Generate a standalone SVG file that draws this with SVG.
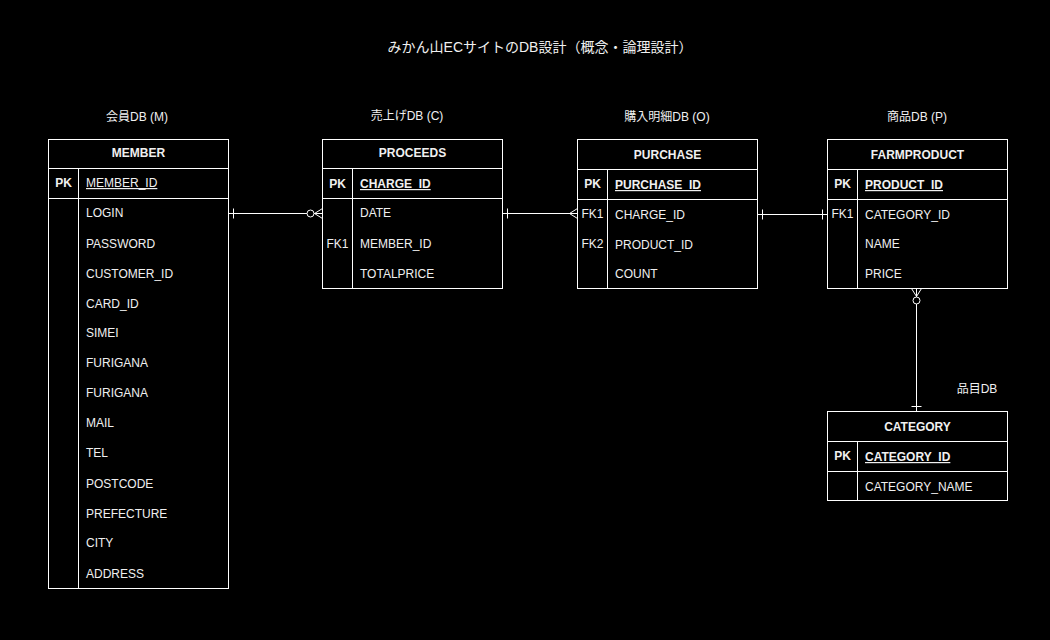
<svg xmlns="http://www.w3.org/2000/svg" width="1050" height="640" viewBox="0 0 1050 640">
<style>
text{font-family:"Liberation Sans","Noto Sans CJK JP",sans-serif;font-size:12px;fill:#f0f0f0}
.title{font-size:14px}
.h{font-weight:bold;text-anchor:middle}
.pk{font-weight:bold;text-anchor:middle}
.fk{text-anchor:middle}
.pkf{font-weight:bold;text-decoration:underline}
.u{text-decoration:underline}
.lbl{text-anchor:middle}
.box{fill:#000;stroke:#fff;stroke-width:1}
.ln{stroke:#fff;stroke-width:1;fill:none}
.cn{stroke:#fff;stroke-width:1;fill:none}
</style>
<defs>
<marker id="one" markerUnits="userSpaceOnUse" markerWidth="20" markerHeight="20" refX="0" refY="0" orient="auto-start-reverse" overflow="visible">
<path d="M-5,-5V5" stroke="#fff" stroke-width="1" fill="none"/>
</marker>
<marker id="many" markerUnits="userSpaceOnUse" markerWidth="20" markerHeight="20" refX="0" refY="0" orient="auto-start-reverse" overflow="visible">
<path d="M0,-5L-8,0L0,5" stroke="#fff" stroke-width="1" fill="none"/>
</marker>
<marker id="zeroMany" markerUnits="userSpaceOnUse" markerWidth="30" markerHeight="20" refX="0" refY="0" orient="auto-start-reverse" overflow="visible">
<path d="M0,-5L-8,0L0,5" stroke="#fff" stroke-width="1" fill="none"/>
<circle cx="-12" cy="0" r="3.5" fill="#000" stroke="#fff" stroke-width="1"/>
</marker>
</defs>
<rect width="1050" height="640" fill="#000"/>
<text class="title" x="540" y="52" text-anchor="middle">みかん山ECサイトのDB設計（概念・論理設計）</text>

<g id="labels">
<text class="lbl" x="137" y="121">会員DB (M)</text>
<text class="lbl" x="407" y="120">売上げDB (C)</text>
<text class="lbl" x="667" y="121">購入明細DB (O)</text>
<text class="lbl" x="917" y="121">商品DB (P)</text>
<text class="lbl" x="977" y="393">品目DB</text>
</g>

<g id="connectors">
<path class="cn" d="M228.5,213.5H322.5" marker-start="url(#one)" marker-end="url(#zeroMany)"/>
<path class="cn" d="M502.5,213.5H577.5" marker-start="url(#one)" marker-end="url(#many)"/>
<path class="cn" d="M757.5,214.5H827.5" marker-start="url(#one)" marker-end="url(#one)"/>
<path class="cn" d="M916.5,288.5V411.5" marker-start="url(#zeroMany)" marker-end="url(#one)"/>
</g>

<g id="member">
<rect class="box" x="48.5" y="139.5" width="180" height="449"/>
<path class="ln" d="M48.5,168.5H228.5M48.5,198.5H228.5M78.5,168.5V588.5"/>
<text class="h" x="138.5" y="157">MEMBER</text>
<text class="pk" x="63.5" y="187">PK</text>
<text class="u" x="86" y="187">MEMBER_ID</text>
<text x="86" y="217">LOGIN</text>
<text x="86" y="248">PASSWORD</text>
<text x="86" y="278">CUSTOMER_ID</text>
<text x="86" y="308">CARD_ID</text>
<text x="86" y="337">SIMEI</text>
<text x="86" y="367">FURIGANA</text>
<text x="86" y="397">FURIGANA</text>
<text x="86" y="427">MAIL</text>
<text x="86" y="457">TEL</text>
<text x="86" y="488">POSTCODE</text>
<text x="86" y="518">PREFECTURE</text>
<text x="86" y="547">CITY</text>
<text x="86" y="578">ADDRESS</text>
</g>

<g id="proceeds">
<rect class="box" x="322.5" y="139.5" width="180" height="149"/>
<path class="ln" d="M322.5,168.5H502.5M322.5,198.5H502.5M352.5,168.5V288.5"/>
<text class="h" x="412.5" y="157">PROCEEDS</text>
<text class="pk" x="337.5" y="188">PK</text>
<text class="pkf" x="360" y="188">CHARGE_ID</text>
<text x="360" y="217">DATE</text>
<text class="fk" x="337.5" y="248">FK1</text>
<text x="360" y="248">MEMBER_ID</text>
<text x="360" y="278">TOTALPRICE</text>
</g>

<g id="purchase">
<rect class="box" x="577.5" y="139.5" width="180" height="149"/>
<path class="ln" d="M577.5,169.5H757.5M577.5,199.5H757.5M607.5,169.5V288.5"/>
<text class="h" x="667.5" y="159">PURCHASE</text>
<text class="pk" x="592.5" y="188">PK</text>
<text class="pkf" x="615" y="189">PURCHASE_ID</text>
<text class="fk" x="592.5" y="218">FK1</text>
<text x="615" y="219">CHARGE_ID</text>
<text class="fk" x="592.5" y="248">FK2</text>
<text x="615" y="249">PRODUCT_ID</text>
<text x="615" y="278">COUNT</text>
</g>

<g id="farmproduct">
<rect class="box" x="827.5" y="139.5" width="180" height="149"/>
<path class="ln" d="M827.5,169.5H1007.5M827.5,199.5H1007.5M857.5,169.5V288.5"/>
<text class="h" x="917.5" y="159">FARMPRODUCT</text>
<text class="pk" x="842.5" y="188">PK</text>
<text class="pkf" x="865" y="189">PRODUCT_ID</text>
<text class="fk" x="842.5" y="218">FK1</text>
<text x="865" y="219">CATEGORY_ID</text>
<text x="865" y="248">NAME</text>
<text x="865" y="278">PRICE</text>
</g>

<g id="category">
<rect class="box" x="827.5" y="411.5" width="180" height="89"/>
<path class="ln" d="M827.5,441.5H1007.5M827.5,471.5H1007.5M857.5,441.5V500.5"/>
<text class="h" x="917.5" y="431">CATEGORY</text>
<text class="pk" x="842.5" y="460">PK</text>
<text class="pkf" x="865" y="461">CATEGORY_ID</text>
<text x="865" y="491">CATEGORY_NAME</text>
</g>
</svg>
